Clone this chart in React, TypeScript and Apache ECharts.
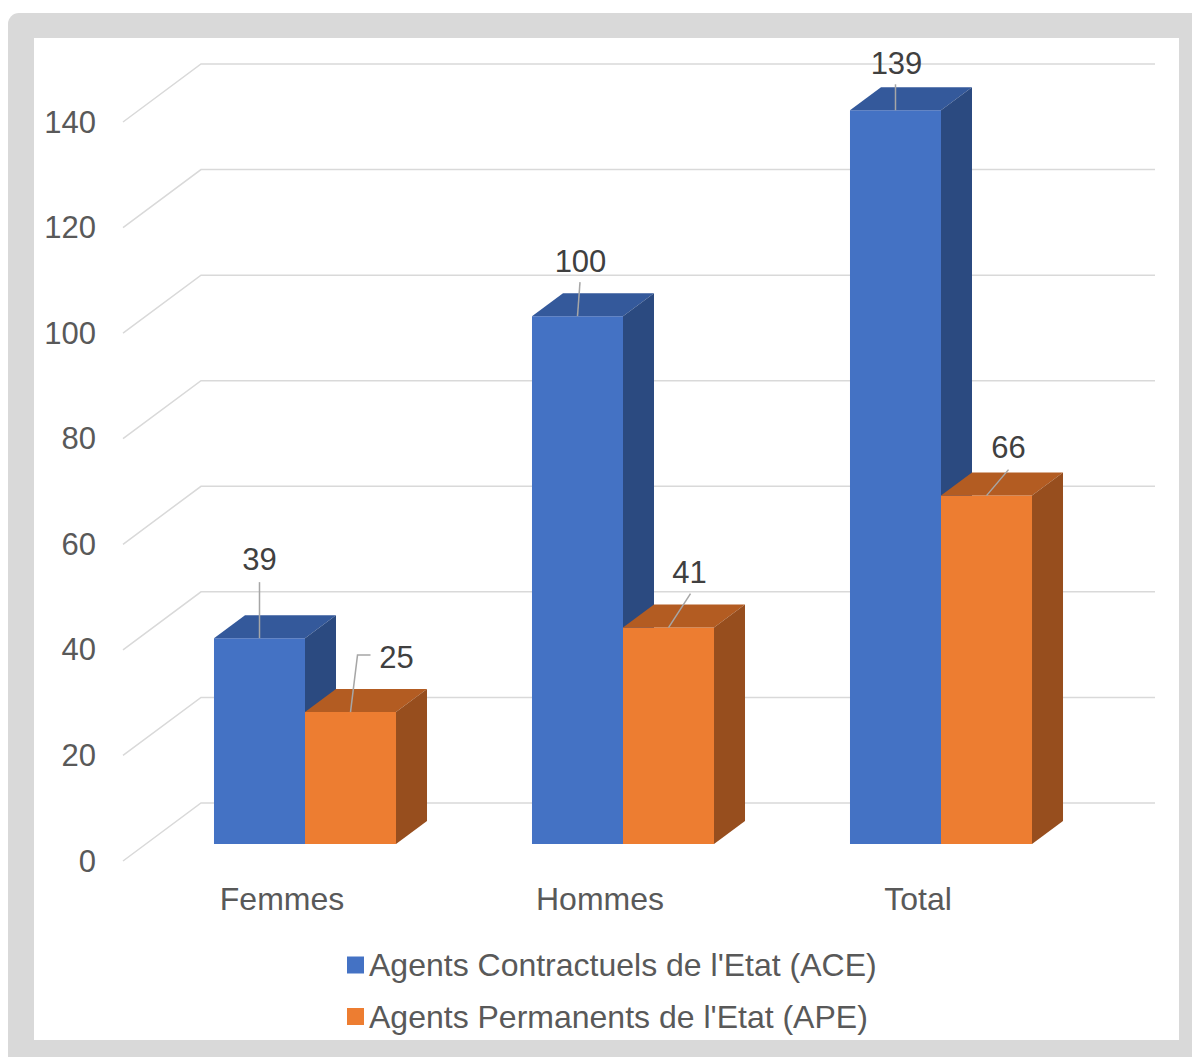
import React, { useEffect, useRef } from "react";
import * as echarts from "echarts";

const categories = ["Femmes", "Hommes", "Total"];
const seriesNames = ["Agents Contractuels de l'Etat (ACE)", "Agents Permanents de l'Etat (APE)"];
const aceValues = [39, 100, 139];
const apeValues = [25, 41, 66];
const yTicks = [0, 20, 40, 60, 80, 100, 120, 140];

const FONT = '"Liberation Sans", Arial, sans-serif';
const FRONT = ["#4472C4", "#ED7D31"];
const TOP = ["#34599B", "#B35C22"];
const SIDE = ["#2B4A80", "#974E1E"];

// 3D projection (pixels)
const BAR_DX = 23;
const BAR_DY = -17;
const DEPTH_DX = 31;
const DEPTH_DY = -23;
const WALL_DX = 78;
const WALL_DY = -58;
const BAR_RATIO = 0.2862;

// label placement relative to the front-top edge centre of each bar
const LABEL_LAYOUT = [
  [
    { dx: 0, dy: -79, line: [[0, 0], [0, -56]] },
    { dx: 3, dy: -55, line: [[0, 0], [2.5, -34]] },
    { dx: 1, dy: -47, line: [[0, 0], [0, -26]] },
  ],
  [
    { dx: 46, dy: -55, line: [[0, 0], [7, -57], [20, -57]] },
    { dx: 21, dy: -55, line: [[0, 0], [22, -34]] },
    { dx: 22, dy: -48, line: [[0, 0], [22, -26]] },
  ],
];

function makeBarRenderer(s: number) {
  return (params: any, api: any) => {
    const cat = api.value(0);
    const v = api.value(1);
    const base = api.coord([cat, 0]);
    const top = api.coord([cat, v]);
    const band = api.size([1, 0])[0];
    const bw = band * BAR_RATIO;
    const x0 = base[0] + BAR_DX + (s === 0 ? -bw : 0);
    const x1 = x0 + bw;
    const yb = base[1] + BAR_DY;
    const yt = top[1] + BAR_DY;
    const lay = LABEL_LAYOUT[s][params.dataIndex];
    const ax = x0 + bw / 2;
    const ay = yt;
    return {
      type: "group",
      children: [
        {
          type: "rect",
          shape: { x: x0, y: yt, width: bw, height: yb - yt },
          style: { fill: FRONT[s] },
        },
        {
          type: "polygon",
          shape: {
            points: [
              [x0, yt],
              [x1, yt],
              [x1 + DEPTH_DX, yt + DEPTH_DY],
              [x0 + DEPTH_DX, yt + DEPTH_DY],
            ],
          },
          style: { fill: TOP[s] },
        },
        {
          type: "polygon",
          shape: {
            points: [
              [x1, yt],
              [x1 + DEPTH_DX, yt + DEPTH_DY],
              [x1 + DEPTH_DX, yb + DEPTH_DY],
              [x1, yb],
            ],
          },
          style: { fill: SIDE[s] },
        },
        {
          type: "polyline",
          shape: { points: lay.line.map((p: number[]) => [ax + p[0], ay + p[1]]) },
          style: { stroke: "#A6A6A6", lineWidth: 1.5, fill: "none" },
        },
        {
          type: "text",
          style: {
            text: String(v),
            x: ax + lay.dx,
            y: ay + lay.dy,
            fill: "#404040",
            fontSize: 31,
            fontFamily: FONT,
            align: "center",
            verticalAlign: "middle",
          },
        },
      ],
    };
  };
}

function renderGridLine(params: any, api: any) {
  const v = api.value(1);
  const p = api.coord([0, v]);
  const cs = params.coordSys;
  return {
    type: "polyline",
    shape: {
      points: [
        [cs.x, p[1]],
        [cs.x + WALL_DX, p[1] + WALL_DY],
        [cs.x + cs.width + WALL_DX, p[1] + WALL_DY],
      ],
    },
    style: { stroke: "#D9D9D9", lineWidth: 1.5, fill: "none" },
  };
}

export default function App() {
  const ref = useRef<HTMLDivElement>(null);
  useEffect(() => {
    if (!ref.current) return;
    const chart = echarts.init(ref.current, undefined, { renderer: "svg" });
    chart.setOption({
      animation: false,
      textStyle: { fontFamily: FONT },
      grid: { left: 123, right: 115, top: 122, bottom: 196 },
      xAxis: {
        type: "category",
        data: categories,
        axisLine: { show: false },
        axisTick: { show: false },
        splitLine: { show: false },
        axisLabel: { color: "#595959", fontSize: 32, fontFamily: FONT, margin: 22 },
      },
      yAxis: {
        type: "value",
        min: 0,
        max: 140,
        interval: 20,
        axisLine: { show: false },
        axisTick: { show: false },
        splitLine: { show: false },
        axisLabel: { color: "#595959", fontSize: 31, fontFamily: FONT, margin: 27 },
      },
      legend: {
        orient: "vertical",
        left: 342,
        top: 944,
        itemWidth: 17,
        itemHeight: 17,
        itemGap: 19.5,
        icon: "rect",
        data: seriesNames,
        textStyle: { color: "#595959", fontSize: 32, fontFamily: FONT, lineHeight: 32 },
      },
      series: [
        {
          type: "custom",
          name: "grid",
          silent: true,
          z: 1,
          clip: false,
          renderItem: renderGridLine,
          data: yTicks.map((t) => [0, t]),
        },
        {
          type: "custom",
          name: seriesNames[0],
          z: 2,
          clip: false,
          itemStyle: { color: FRONT[0] },
          renderItem: makeBarRenderer(0),
          data: categories.map((_, i) => [i, aceValues[i]]),
        },
        {
          type: "custom",
          name: seriesNames[1],
          z: 3,
          clip: false,
          itemStyle: { color: FRONT[1] },
          renderItem: makeBarRenderer(1),
          data: categories.map((_, i) => [i, apeValues[i]]),
        },
      ],
    });
    return () => chart.dispose();
  }, []);

  return (
    <div style={{ position: "fixed", left: 0, top: 0, width: 1192, height: 1057, background: "#fff" }}>
      <div
        style={{
          position: "absolute",
          left: 8,
          top: 13,
          width: 1184,
          height: 1044,
          background: "#D9D9D9",
          borderTopLeftRadius: 11,
        }}
      />
      <div style={{ position: "absolute", left: 34, top: 38, width: 1145, height: 1002, background: "#fff" }} />
      <div ref={ref} style={{ position: "absolute", left: 0, top: 0, width: 1192, height: 1057 }} />
    </div>
  );
}
